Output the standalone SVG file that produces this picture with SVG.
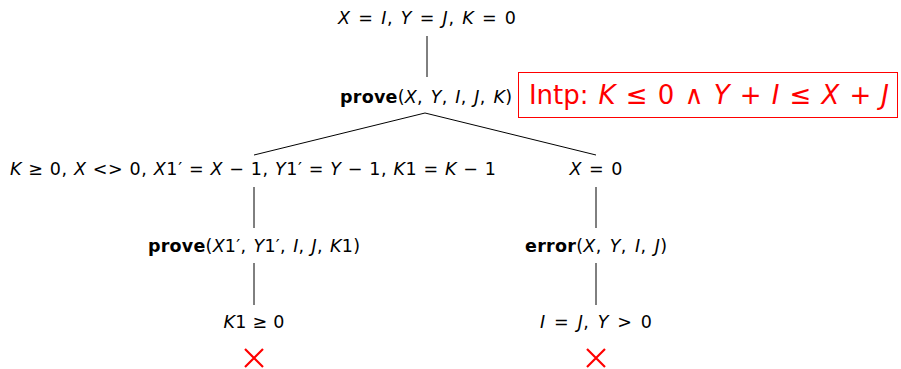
<svg xmlns="http://www.w3.org/2000/svg" width="901" height="369" viewBox="0 0 901 369">
<style>
text{font-family:"DejaVu Sans","Liberation Sans",sans-serif;font-size:17.5px;fill:#000;text-anchor:middle}
.i{font-style:italic}
.b{font-weight:bold}
.edge{stroke:#000;stroke-width:1;fill:none}
.x{stroke:#ff0000;stroke-width:2.2;fill:none}
.intp{fill:#ff0000;font-size:26px;text-anchor:start}
</style>
<rect width="901" height="369" fill="#fff"/>
<g id="connectors">
<line class="edge" x1="427" y1="36" x2="427" y2="77"/>
<line class="edge" x1="425" y1="113" x2="254" y2="155"/>
<line class="edge" x1="425" y1="113" x2="596" y2="155"/>
<line class="edge" x1="254" y1="187" x2="254" y2="228"/>
<line class="edge" x1="596" y1="187" x2="596" y2="228"/>
<line class="edge" x1="254" y1="263" x2="254" y2="305"/>
<line class="edge" x1="596" y1="263" x2="596" y2="305"/>
</g>
<g id="root"><text x="427" y="24" word-spacing="1.5" textLength="178" lengthAdjust="spacing"><tspan class="i">X</tspan> = <tspan class="i">I</tspan>, <tspan class="i">Y</tspan> = <tspan class="i">J</tspan>, <tspan class="i">K</tspan> = 0</text></g>
<g id="prove1"><text x="426" y="103" word-spacing="2" textLength="172" lengthAdjust="spacing"><tspan class="b">prove</tspan>(<tspan class="i">X</tspan>, <tspan class="i">Y</tspan>, <tspan class="i">I</tspan>, <tspan class="i">J</tspan>, <tspan class="i">K</tspan>)</text></g>
<g id="intp">
<rect x="518.5" y="72.5" width="379" height="45" fill="none" stroke="#ff0000" stroke-width="1"/>
<text class="intp" x="529" y="104" word-spacing="2" textLength="360" lengthAdjust="spacing">Intp: <tspan class="i">K</tspan> ≤ 0 ∧ <tspan class="i">Y</tspan> + <tspan class="i">I</tspan> ≤ <tspan class="i">X</tspan> + <tspan class="i">J</tspan></text>
</g>
<g id="cond1"><text x="253" y="175" textLength="486" lengthAdjust="spacing"><tspan class="i">K</tspan> ≥ 0, <tspan class="i">X</tspan> &lt;&gt; 0, <tspan class="i">X</tspan>1′ = <tspan class="i">X</tspan> − 1, <tspan class="i">Y</tspan>1′ = <tspan class="i">Y</tspan> − 1, <tspan class="i">K</tspan>1 = <tspan class="i">K</tspan> − 1</text></g>
<g id="cond2"><text x="596" y="175" word-spacing="2" textLength="53" lengthAdjust="spacing"><tspan class="i">X</tspan> = 0</text></g>
<g id="prove2"><text x="254" y="252" word-spacing="1.5" textLength="212" lengthAdjust="spacing"><tspan class="b">prove</tspan>(<tspan class="i">X</tspan>1′, <tspan class="i">Y</tspan>1′, <tspan class="i">I</tspan>, <tspan class="i">J</tspan>, <tspan class="i">K</tspan>1)</text></g>
<g id="error"><text x="596" y="252" word-spacing="2.5" textLength="142" lengthAdjust="spacing"><tspan class="b">error</tspan>(<tspan class="i">X</tspan>, <tspan class="i">Y</tspan>, <tspan class="i">I</tspan>, <tspan class="i">J</tspan>)</text></g>
<g id="leaf1"><text x="254" y="328" textLength="61" lengthAdjust="spacing"><tspan class="i">K</tspan>1 ≥ 0</text></g>
<g id="leaf2"><text x="596" y="328" word-spacing="2.5" textLength="112" lengthAdjust="spacing"><tspan class="i">I</tspan> = <tspan class="i">J</tspan>, <tspan class="i">Y</tspan> &gt; 0</text></g>
<g id="cross1"><path class="x" d="M245 349L263 367M263 349L245 367"/></g>
<g id="cross2"><path class="x" d="M587 349L605 367M605 349L587 367"/></g>
</svg>
